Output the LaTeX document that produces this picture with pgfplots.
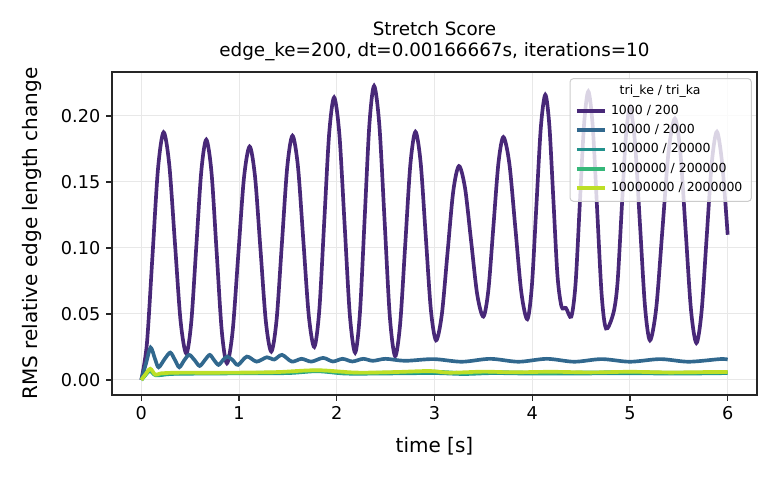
\documentclass[border=0pt]{standalone}
\usepackage{pgfplots}
\pgfplotsset{compat=1.18}
\usepackage{fontspec}
\setmainfont{DejaVu Sans}
\definecolor{c1}{HTML}{482878}
\definecolor{c2}{HTML}{31688E}
\definecolor{c3}{HTML}{21918C}
\definecolor{c4}{HTML}{35B779}
\definecolor{c5}{HTML}{BDDF26}
\definecolor{axc}{HTML}{262626}
\begin{document}
\begin{tikzpicture}
\path[use as bounding box] (-67.2pt,-51pt) rectangle (400.8pt,237pt);
\begin{axis}[
  at={(0,0)}, anchor=south west,
  scale only axis, width=387pt, height=193.8pt,
  xmin=-0.3, xmax=6.3, ymin=-0.0114, ymax=0.2333,
  xtick={0,1,2,3,4,5,6},
  ytick={0,0.05,0.1,0.15,0.2},
  scaled y ticks=false,
  /pgf/number format/assume math mode=true,
  yticklabel style={/pgf/number format/.cd, fixed, fixed zerofill, precision=2},
  ticklabel style={font=\fontsize{10.6}{12}\selectfont, text=black},
  grid=major, grid style={line width=0.6pt, black!9},
  tick align=outside, tick pos=left, major tick length=3.5pt,
  tick style={line width=0.8pt, axc},
  axis line style={line width=0.8pt, axc},
  xlabel={time [s]},
  ylabel={RMS relative edge length change},
  label style={font=\fontsize{12}{14}\selectfont},
  xlabel style={at={(rel axis cs:0.5,0)}, anchor=center, yshift=-30.6pt},
  ylabel style={at={(rel axis cs:0,0.5)}, anchor=center, yshift=48pt},
  title={Stretch Score\\edge\_ke=200, dt=0.00166667s, iterations=10},
  title style={at={(rel axis cs:0.5,1)}, anchor=center, yshift=12.3pt, align=center, font=\fontsize{11}{12.6}\selectfont},
  legend cell align=left,
  legend style={at={(rel axis cs:0.992,0.981)}, anchor=north east,
    font=\fontsize{7.5}{8}\selectfont,
    fill=white, fill opacity=0.8, draw opacity=1, text opacity=1,
    draw=black!20, rounded corners=2pt, line width=0.6pt,
    row sep=0pt,
    nodes={text height=5.5pt, text depth=1.5pt, inner sep=2.3pt}},
]
\addlegendimage{empty legend}
\addlegendentry{\hspace{5.2pt}tri\_ke / tri\_ka}

\addplot[color=c1, line width=2.2pt, smooth] coordinates {
(0,0) (0.057,0.0274) (0.114,0.0938) (0.171,0.1602) (0.228,0.1876)
(0.286,0.1631) (0.344,0.1038) (0.402,0.0445) (0.46,0.020)
(0.511,0.0437) (0.5625,0.101) (0.614,0.1583) (0.665,0.182)
(0.718,0.1573) (0.7705,0.0973) (0.823,0.0373) (0.876,0.0126)
(0.934,0.0366) (0.992,0.0947) (1.05,0.1528) (1.108,0.1768)
(1.1635,0.1541) (1.219,0.0992) (1.2745,0.0442) (1.33,0.0215)
(1.384,0.0454) (1.4385,0.1033) (1.493,0.1611) (1.547,0.185)
(1.603,0.1616) (1.6585,0.105) (1.714,0.0484) (1.77,0.025)
(1.821,0.0526) (1.8715,0.1195) (1.922,0.1864) (1.973,0.214)
(2.027,0.1858) (2.0805,0.1174) (2.134,0.0489) (2.188,0.0207)
(2.2365,0.0502) (2.285,0.1217) (2.3335,0.1932) (2.382,0.2227)
(2.436,0.1928) (2.4895,0.1204) (2.543,0.0479) (2.597,0.018)
(2.649,0.0428) (2.701,0.103) (2.753,0.1632) (2.805,0.188)
(2.858,0.1649) (2.9105,0.109) (2.963,0.0531) (3.016,0.030)
(3.0745,0.0493) (3.133,0.096) (3.1915,0.1427) (3.25,0.162)
(3.3125,0.1454) (3.375,0.105) (3.4375,0.0646) (3.50,0.048)
(3.551,0.0679) (3.6025,0.116) (3.654,0.1641) (3.705,0.184)
(3.766,0.1639) (3.8275,0.115) (3.889,0.0661) (3.95,0.046)
(3.996,0.0708) (4.042,0.131) (4.088,0.1912) (4.134,0.216)
(4.1755,0.1926) (4.217,0.1358) (4.2585,0.079) (4.30,0.0556)
(4.345,0.0545) (4.40,0.048)
(4.4435,0.0729) (4.487,0.1333) (4.5305,0.1936) (4.574,0.2185)
(4.619,0.1923) (4.6645,0.1288) (4.71,0.0652) (4.755,0.039)
(4.83,0.0505)
(4.8725,0.0732) (4.915,0.1283) (4.9575,0.1833) (5.0,0.206)
(5.051,0.1803) (5.1025,0.118) (5.154,0.0557) (5.205,0.030)
(5.269,0.0545) (5.3325,0.114) (5.396,0.1735) (5.46,0.198)
(5.515,0.1732) (5.57,0.113) (5.625,0.0528) (5.68,0.028)
(5.7325,0.0514) (5.785,0.108) (5.8375,0.1646) (5.89,0.188)
(5.945,0.163) (6.0,0.11)
};
\addlegendentry{1000 / 200}

\addplot[color=c2, line width=2.2pt, smooth] coordinates {
(0,0) (0.05,0.013) (0.095,0.0245) (0.14,0.016) (0.177,0.0096)
(0.24,0.016) (0.297,0.0207) (0.345,0.015) (0.389,0.0096)
(0.44,0.015) (0.49,0.019) (0.545,0.015) (0.597,0.0106)
(0.65,0.015) (0.70,0.019) (0.745,0.015) (0.79,0.0114)
(0.835,0.015) (0.88,0.0177) (0.935,0.015) (0.99,0.0114)
(1.08,0.0177) (1.18,0.0139) (1.285,0.0172) (1.36,0.0155)
(1.44,0.019) (1.54,0.0139) (1.64,0.016) (1.74,0.0139)
(1.86,0.0167) (1.96,0.014) (2.06,0.016) (2.16,0.014)
(2.27,0.016) (2.37,0.0145) (2.5,0.016) (2.7,0.0145)
(2.99,0.0158) (3.28,0.0138) (3.57,0.016) (3.86,0.0138)
(4.15,0.016) (4.43,0.0138) (4.71,0.0158) (5.0,0.0138)
(5.31,0.0158) (5.6,0.0138) (5.92,0.0158) (6.0,0.0155)
};
\addlegendentry{10000 / 2000}

\addplot[color=c3, line width=2.2pt, smooth] coordinates {
(0,0) (0.045,0.004) (0.09,0.007) (0.15,0.0035) (0.3,0.0045)
(0.6,0.0048) (1.0,0.005) (1.5,0.0052) (1.8,0.0066) (2.1,0.0048)
(2.5,0.0049) (3.0,0.0052) (3.3,0.0045) (3.6,0.0052) (4.0,0.0048)
(4.5,0.0049) (5.0,0.0051) (5.5,0.0048) (6.0,0.0052)
};
\addlegendentry{100000 / 20000}

\addplot[color=c4, line width=2.2pt, smooth] coordinates {
(0,0) (0.045,0.0042) (0.09,0.0078) (0.145,0.0038) (0.3,0.005)
(0.6,0.0052) (1.0,0.0053) (1.5,0.0057) (1.8,0.007) (2.1,0.0053)
(2.5,0.0055) (3.0,0.0062) (3.3,0.0052) (3.6,0.0059) (4.0,0.0055)
(4.5,0.0056) (5.0,0.0059) (5.5,0.0054) (6.0,0.0058)
};
\addlegendentry{1000000 / 200000}

\addplot[color=c5, line width=2.2pt, smooth] coordinates {
(0,0) (0.04,0.004) (0.092,0.0085) (0.143,0.004) (0.2,0.005)
(0.36,0.0055) (0.7,0.0055) (1.05,0.0056) (1.4,0.006) (1.8,0.0074)
(2.2,0.0056) (2.6,0.006) (2.95,0.0068) (3.15,0.0055) (3.5,0.0063)
(3.8,0.0058) (4.2,0.0062) (4.6,0.0057) (5.0,0.0062) (5.4,0.0057)
(5.8,0.006) (6.0,0.006)
};
\addlegendentry{10000000 / 2000000}
\end{axis}
\end{tikzpicture}
\end{document}
